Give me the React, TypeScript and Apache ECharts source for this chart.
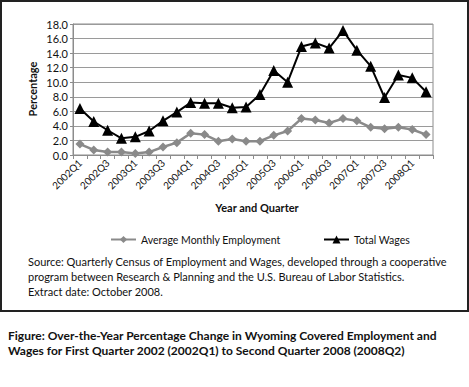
import React, { useEffect, useRef } from "react";
import * as echarts from "echarts";

const quarters = [
  "2002Q1", "2002Q2", "2002Q3", "2002Q4",
  "2003Q1", "2003Q2", "2003Q3", "2003Q4",
  "2004Q1", "2004Q2", "2004Q3", "2004Q4",
  "2005Q1", "2005Q2", "2005Q3", "2005Q4",
  "2006Q1", "2006Q2", "2006Q3", "2006Q4",
  "2007Q1", "2007Q2", "2007Q3", "2007Q4",
  "2008Q1", "2008Q2",
];

const avgMonthlyEmployment = [
  1.5, 0.7, 0.4, 0.4, 0.2, 0.4, 1.1, 1.7,
  3.0, 2.8, 1.9, 2.2, 1.9, 1.9, 2.7, 3.3,
  5.0, 4.8, 4.4, 5.0, 4.7, 3.8, 3.6, 3.8,
  3.5, 2.8,
];

const totalWages = [
  6.4, 4.6, 3.4, 2.3, 2.5, 3.3, 4.7, 5.9,
  7.2, 7.1, 7.1, 6.5, 6.6, 8.3, 11.6, 10.0,
  14.9, 15.4, 14.7, 17.1, 14.4, 12.2, 7.9, 11.0,
  10.6, 8.7,
];

const seriesNames = ["Average Monthly Employment", "Total Wages"];

const sourceLines = [
  "Source: Quarterly Census of Employment and Wages, developed through a cooperative",
  "program between Research & Planning and the U.S. Bureau of Labor Statistics.",
  "Extract date: October 2008.",
];

const captionLines = [
  "Figure: Over-the-Year Percentage Change in Wyoming Covered Employment and",
  "Wages for First Quarter 2002 (2002Q1) to Second Quarter 2008 (2008Q2)",
];

const FONT = "Lato, 'Open Sans', sans-serif";

export default function App() {
  const ref = useRef<HTMLDivElement>(null);

  useEffect(() => {
    document.body.style.margin = "0";
    if (!ref.current) return;
    const chart = echarts.init(ref.current, undefined, { renderer: "svg" });

    const option: any = {
      animation: false,
      backgroundColor: "#ffffff",
      textStyle: { fontFamily: FONT },
      grid: {
        left: 73,
        top: 24,
        right: 36,
        bottom: 232,
        show: true,
        borderColor: "#8c8c8c",
        borderWidth: 1,
      },
      legend: [
        {
          data: [seriesNames[0]],
          left: 105,
          top: 229,
          itemWidth: 25,
          itemHeight: 9,
          itemGap: 6,
          textStyle: { fontFamily: FONT, fontSize: 10.5, color: "#111" },
        },
        {
          data: [seriesNames[1]],
          left: 318,
          top: 229,
          itemWidth: 25,
          itemHeight: 10,
          textStyle: { fontFamily: FONT, fontSize: 10.5, color: "#111" },
        },
      ],
      xAxis: {
        type: "category",
        data: quarters,
        boundaryGap: true,
        axisLine: { show: true, lineStyle: { color: "#8c8c8c", width: 1 } },
        axisTick: {
          show: true,
          interval: 0,
          length: 4,
          lineStyle: { color: "#8c8c8c" },
        },
        axisLabel: {
          interval: 1,
          rotate: 45,
          fontFamily: FONT,
          fontSize: 10,
          color: "#111",
          margin: 6,
        },
        splitLine: { show: false },
      },
      yAxis: {
        type: "value",
        min: 0,
        max: 18,
        interval: 2,
        axisLine: { show: true, lineStyle: { color: "#8c8c8c", width: 1 } },
        axisTick: { show: true, length: 3, lineStyle: { color: "#8c8c8c" } },
        axisLabel: {
          fontFamily: FONT,
          fontSize: 11,
          color: "#111",
          margin: 5,
          formatter: (v: number) => v.toFixed(1),
        },
        splitLine: { show: true, lineStyle: { color: "#9a9a9a", width: 1 } },
      },
      series: [
        {
          name: seriesNames[0],
          type: "line",
          data: avgMonthlyEmployment,
          symbol: "diamond",
          symbolSize: 9,
          showAllSymbol: true,
          itemStyle: { color: "#8a8a8a" },
          lineStyle: { color: "#8a8a8a", width: 2.5 },
          z: 2,
        },
        {
          name: seriesNames[1],
          type: "line",
          data: totalWages,
          symbol: "triangle",
          symbolSize: 11,
          showAllSymbol: true,
          itemStyle: { color: "#000" },
          lineStyle: { color: "#000", width: 2 },
          z: 3,
        },
      ],
      graphic: [
        {
          type: "rect",
          shape: { x: 1, y: 1, width: 467, height: 310 },
          style: { fill: "none", stroke: "#222", lineWidth: 2 },
          silent: true,
        },
        {
          type: "text",
          x: 32,
          y: 89,
          rotation: Math.PI / 2,
          style: {
            text: "Percentage",
            fontFamily: FONT,
            fontSize: 11,
            fontWeight: "bold",
            fill: "#111",
            align: "center",
            verticalAlign: "middle",
          },
        },
        {
          type: "text",
          x: 257,
          y: 207,
          style: {
            text: "Year and Quarter",
            fontFamily: FONT,
            fontSize: 11,
            fontWeight: "bold",
            fill: "#111",
            align: "center",
            verticalAlign: "middle",
          },
        },
        ...sourceLines.map((t, i) => ({
          type: "text",
          x: 28,
          y: 261 + i * 15,
          style: {
            text: t,
            fontFamily: FONT,
            fontSize: 11,
            fill: "#111",
            align: "left",
            verticalAlign: "middle",
          },
        })),
        ...captionLines.map((t, i) => ({
          type: "text",
          x: 8,
          y: 335 + i * 15,
          style: {
            text: t,
            fontFamily: FONT,
            fontSize: 12,
            fontWeight: "bold",
            fill: "#111",
            align: "left",
            verticalAlign: "middle",
          },
        })),
      ],
    };

    chart.setOption(option);
    return () => chart.dispose();
  }, []);

  return <div ref={ref} style={{ width: 469, height: 387 }} />;
}
